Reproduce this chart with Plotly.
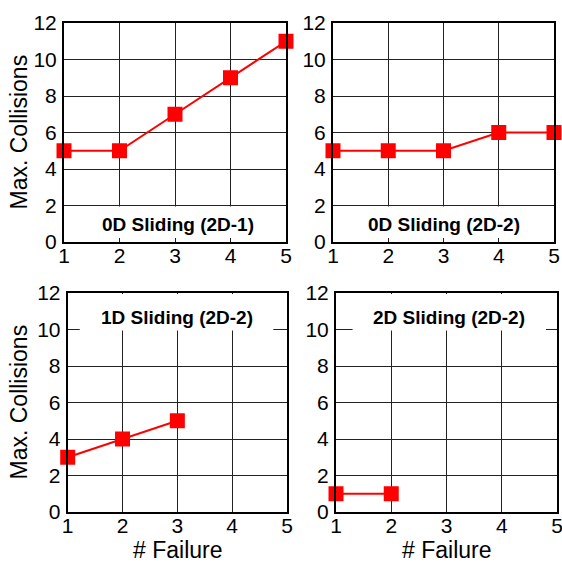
import plotly.graph_objects as go

# ---- data ----
failures_tl = [1, 2, 3, 4, 5]
collisions_tl = [5, 5, 7, 9, 11]
failures_tr = [1, 2, 3, 4, 5]
collisions_tr = [5, 5, 5, 6, 6]
failures_bl = [1, 2, 3]
collisions_bl = [3, 4, 5]
failures_br = [1, 2]
collisions_br = [1, 1]
panel_titles = ["0D Sliding (2D-1)", "0D Sliding (2D-2)", "1D Sliding (2D-2)", "2D Sliding (2D-2)"]
x_ticks = [1, 2, 3, 4, 5]
y_ticks = [0, 2, 4, 6, 8, 10, 12]
y_title = "Max. Collisions"
x_title = "# Failure"

W = H = 562
FONT = "Liberation Sans, Arial, Helvetica, sans-serif"
RED = "#ff0000"

def px_x(p):
    return p / W

def px_y(p):
    return 1 - p / H

# plot areas in screen pixels (left, right, top, bottom)
areas = [
    (64, 286, 23, 242),
    (333, 554, 23, 242),
    (67.7, 287, 293, 512),
    (336, 557, 293, 512),
]

series = [
    (failures_tl, collisions_tl),
    (failures_tr, collisions_tr),
    (failures_bl, collisions_bl),
    (failures_br, collisions_br),
]

fig = go.Figure()
layout = dict(
    width=W, height=H, autosize=False,
    margin=dict(l=0, r=0, t=0, b=0, pad=0),
    paper_bgcolor="white", plot_bgcolor="white",
    showlegend=False,
    font=dict(family=FONT, color="black"),
)

shapes = []
annotations = []
for i, ((l, r, t, b), (xs, ys)) in enumerate(zip(areas, series)):
    n = "" if i == 0 else str(i + 1)
    xa = "x" + n
    ya = "y" + n
    fig.add_trace(go.Scatter(
        x=xs, y=ys, xaxis=xa, yaxis=ya, mode="lines+markers",
        line=dict(color=RED, width=2),
        marker=dict(symbol="square", size=15, color=RED),
        cliponaxis=False,
    ))
    common = dict(
        showline=True, mirror=True, linecolor="black", linewidth=2,
        showgrid=True, gridcolor="#222222", gridwidth=1,
        zeroline=False, ticks="", automargin=False, ticklabeloverflow="allow",
        tickfont=dict(size=21, family=FONT, color="black"),
    )
    layout["xaxis" + n] = dict(
        domain=[px_x(l), px_x(r)], anchor=ya, range=[1, 5],
        tickvals=x_ticks, ticklabelstandoff=-6, **common)
    layout["yaxis" + n] = dict(
        domain=[px_y(b), px_y(t)], anchor=xa, range=[0, 12],
        tickvals=y_ticks, ticklabelstandoff=1, **common)

    if i < 2:
        shapes.append(dict(type="rect", xref=xa, yref=ya, x0=1.0, x1=5.0, y0=0.22, y1=1.95,
                           fillcolor="white", line=dict(width=0), layer="above"))
        annotations.append(dict(text="<b>%s</b>" % panel_titles[i], xref=xa, yref=ya,
                                x=3.05 if i == 0 else 3.0, y=0.95, showarrow=False,
                                xanchor="center", yanchor="middle",
                                font=dict(size=19, family=FONT, color="black")))
    else:
        x0 = 1.22 if i == 2 else 1.3
        x1 = 4.75 if i == 2 else 4.8
        shapes.append(dict(type="rect", xref=xa, yref=ya, x0=x0, x1=x1, y0=9.95, y1=11.95,
                           fillcolor="white", line=dict(width=0), layer="above"))
        annotations.append(dict(text="<b>%s</b>" % panel_titles[i], xref=xa, yref=ya,
                                x=3.0 if i == 2 else 3.05, y=10.65, showarrow=False,
                                xanchor="center", yanchor="middle",
                                font=dict(size=19, family=FONT, color="black")))

# axis titles
for (l, r, t, b) in (areas[0], areas[2]):
    annotations.append(dict(text=y_title, xref="paper", yref="paper",
                            x=px_x(18), y=px_y((t + b) / 2), textangle=-90,
                            xanchor="center", yanchor="middle",
                            showarrow=False, font=dict(size=23, family=FONT, color="black")))
for (l, r, t, b) in (areas[2], areas[3]):
    annotations.append(dict(text=x_title, xref="paper", yref="paper",
                            x=px_x((l + r) / 2), y=px_y(550),
                            xanchor="center", yanchor="middle", showarrow=False,
                            font=dict(size=23, family=FONT, color="black")))

layout["shapes"] = shapes
layout["annotations"] = annotations
fig.update_layout(**layout)
fig.write_html(
    "out.html",
    config={"displayModeBar": False},
    post_script="document.body.style.margin='0';document.body.style.overflow='hidden';",
)
